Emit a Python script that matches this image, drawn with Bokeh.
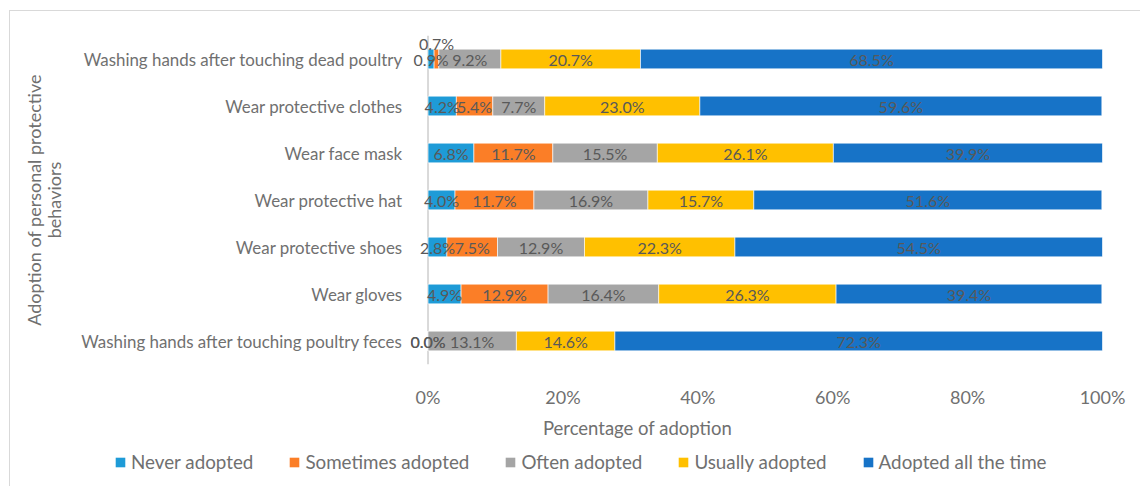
from bokeh.plotting import figure
from bokeh.models import (ColumnDataSource, FactorRange, Range1d, Legend, LegendItem,
                          Span, Label, PrintfTickFormatter, FixedTicker)
from bokeh.embed import file_html
from bokeh.resources import INLINE
from bokeh.core.properties import value

# ---------------- data ----------------
categories = [
    "Washing hands after touching dead poultry",
    "Wear protective clothes",
    "Wear face mask",
    "Wear protective hat",
    "Wear protective shoes",
    "Wear gloves",
    "Washing hands after touching poultry feces",
]
series_names = ["Never adopted", "Sometimes adopted", "Often adopted",
                "Usually adopted", "Adopted all the time"]
never_adopted = [0.9, 4.2, 6.8, 4.0, 2.8, 4.9, 0.0]
sometimes_adopted = [0.7, 5.4, 11.7, 11.7, 7.5, 12.9, 0.0]
often_adopted = [9.2, 7.7, 15.5, 16.9, 12.9, 16.4, 13.1]
usually_adopted = [20.7, 23.0, 26.1, 15.7, 22.3, 26.3, 14.6]
adopted_all_time = [68.5, 59.6, 39.9, 51.6, 54.5, 39.4, 72.3]
x_ticks = [0, 20, 40, 60, 80, 100]
x_title = "Percentage of adoption"
y_title = "Adoption of personal protective\nbehaviors"

colors = ["#1E9BD7", "#FB7E27", "#A5A5A5", "#FFC000", "#1773C7"]
FONT = "Lato"
TXT = "#595959"
AX = "#707070"
BORDER = "#d9d9d9"

series = [never_adopted, sometimes_adopted, often_adopted, usually_adopted, adopted_all_time]
keys = ["s0", "s1", "s2", "s3", "s4"]

data = {"cat": categories}
for k, s in zip(keys, series):
    data[k] = s
source = ColumnDataSource(data)

p = figure(width=1140, height=410,
           y_range=FactorRange(factors=categories[::-1]),
           x_range=Range1d(-2.6, 100),
           output_backend="svg", toolbar_location=None,
           min_border_left=410, min_border_right=38,
           min_border_top=35, min_border_bottom=38)
p.border_fill_alpha = 0
p.styles = {
    "background-image": f"linear-gradient({BORDER},{BORDER}), linear-gradient({BORDER},{BORDER})",
    "background-size": "1px 100%, 100% 1px",
    "background-position": "9px 10px, 9px 10px",
    "background-repeat": "no-repeat",
}

# vertical category axis line at 0 %, drawn beneath bars and labels
p.add_layout(Span(location=0, dimension="height", line_color=BORDER, line_width=2,
                  level="underlay"))

renderers = p.hbar_stack(keys, y="cat", height=0.42, source=source,
                         color=colors, line_color="white", line_width=0.6)

# data labels
lx, ly, lt, loff = [], [], [], []
for i, c in enumerate(categories):
    left = 0.0
    for j, s in enumerate(series):
        v = s[i]
        lx.append(left + v / 2.0)
        ly.append(c)
        lt.append(f"{v:.1f}%")
        # Excel moved one crowded label above its bar
        loff.append(-16 if (i == 0 and j == 1) else 0)
        left += v
lsrc = ColumnDataSource(dict(x=lx, y=ly, t=lt, off=loff))
p.text(x="x", y="y", text="t", y_offset="off", source=lsrc,
       text_font=value(FONT), text_font_size="16px", text_color=TXT,
       text_align="center", text_baseline="middle")

# axes
p.xaxis.ticker = FixedTicker(ticks=x_ticks)
p.xaxis.formatter = PrintfTickFormatter(format="%d%%")
p.xaxis.axis_line_color = None
p.xaxis.major_tick_line_color = None
p.xaxis.minor_tick_line_color = None
p.xaxis.major_label_text_font = FONT
p.xaxis.major_label_text_font_size = "18px"
p.xaxis.major_label_text_color = AX
p.xaxis.major_label_standoff = 15

p.yaxis.axis_line_color = None
p.yaxis.major_tick_line_color = None
p.yaxis.minor_tick_line_color = None
p.yaxis.major_label_text_font = FONT
p.yaxis.major_label_text_font_size = "16.9px"
p.yaxis.major_label_text_color = AX
p.yaxis.major_label_standoff = 2
p.yaxis.axis_label = y_title
p.yaxis.axis_label_text_font = FONT
p.yaxis.axis_label_text_font_size = "18px"
p.yaxis.axis_label_text_font_style = "normal"
p.yaxis.axis_label_text_color = AX
p.yaxis.axis_label_text_line_height = 0.9
p.yaxis.axis_label_standoff = 13

p.xgrid.grid_line_color = None
p.ygrid.grid_line_color = None
p.outline_line_color = None

# ---- bottom strip: x-axis title and legend (full width, separate root) ----
lg = figure(width=1140, height=76, x_range=(0, 1), y_range=(0, 1),
            output_backend="svg", toolbar_location=None,
            x_axis_location=None, y_axis_location=None,
            min_border_left=0, min_border_right=0, min_border_top=0, min_border_bottom=0)
lg.grid.grid_line_color = None
lg.outline_line_color = None
lg.border_fill_alpha = 0
lg.background_fill_alpha = 0
lg.styles = {
    "background-image": f"linear-gradient({BORDER},{BORDER})",
    "background-size": "1px 100%",
    "background-position": "9px 0px",
    "background-repeat": "no-repeat",
}
lg.add_layout(Label(x=637, y=59, x_units="screen", y_units="screen", text=x_title,
                    text_align="center", text_baseline="middle",
                    text_font=FONT, text_font_size="18.5px", text_color=AX))

swatch_src = ColumnDataSource(dict(y=[-5.0], left=[0.0], right=[0.0]))
swatches = [lg.hbar(y="y", left="left", right="right", height=0.5, source=swatch_src,
                    fill_color=c, line_color=None) for c in colors]
legend = Legend(items=[LegendItem(label=n, renderers=[r]) for n, r in zip(series_names, swatches)],
                orientation="horizontal", location=(114, 13),
                glyph_width=12, glyph_height=12, label_standoff=5, spacing=35,
                padding=0, margin=0, border_line_color=None, background_fill_alpha=0,
                label_text_font=FONT, label_text_font_size="18.8px", label_text_color=AX)
lg.add_layout(legend, "center")

open("out.html", "w").write(file_html([p, lg], INLINE))
